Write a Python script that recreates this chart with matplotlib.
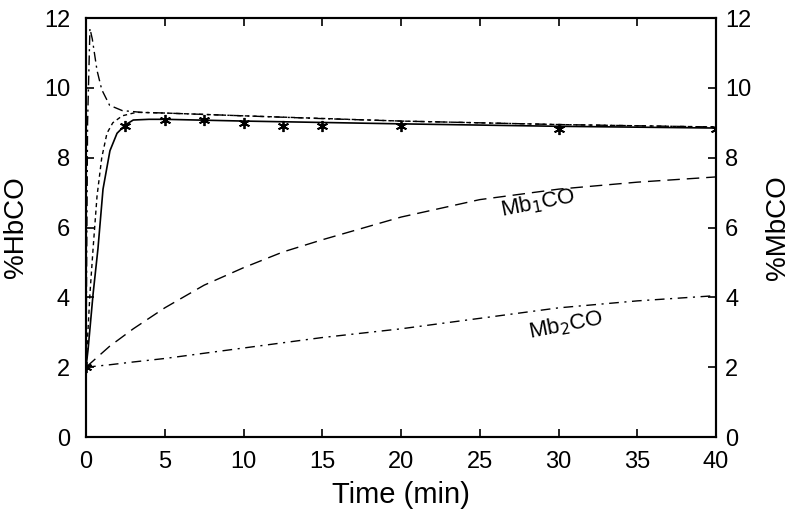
import matplotlib
matplotlib.use("Agg")
import matplotlib.pyplot as plt

plt.rcParams['font.family'] = ['Liberation Sans', 'DejaVu Sans']

# HbCO curves (%), time in min
t_solid = [0, 0.13, 0.45, 0.76, 1.08, 1.52, 1.97, 2.5, 3.0, 4, 5, 10, 20, 30, 40]
hb_solid = [2, 2.5, 4.1, 5.4, 7.1, 8.2, 8.7, 8.94, 9.08, 9.1, 9.1, 9.05, 8.97, 8.9, 8.85]

t_short = [0, 0.25, 0.45, 0.7, 1.0, 1.33, 1.7, 2.3, 3.2, 5, 10, 20, 30, 40]
hb_short = [2, 4.1, 5.4, 6.9, 8.0, 8.7, 9.0, 9.2, 9.3, 9.28, 9.2, 9.05, 8.95, 8.88]

t_dd = [0, 0.1, 0.25, 0.4, 0.7, 1.0, 1.5, 2.3, 3.5, 5, 10, 15, 20, 30, 40]
hb_dd = [2, 9.0, 11.7, 11.4, 10.5, 9.95, 9.5, 9.35, 9.3, 9.28, 9.2, 9.12, 9.05, 8.95, 8.88]

# measured HbCO
t_meas = [0, 2.5, 5, 7.5, 10, 12.5, 15, 20, 30, 40]
hb_meas = [2.0, 8.9, 9.08, 9.08, 9.0, 8.9, 8.9, 8.9, 8.83, 8.83]

# MbCO curves (%)
t_mb = [0, 1.5, 3, 5, 7.5, 10, 12.5, 15, 20, 25, 30, 35, 40]
mb1 = [2.0, 2.6, 3.1, 3.7, 4.35, 4.85, 5.3, 5.65, 6.3, 6.8, 7.1, 7.3, 7.45]
mb2 = [2.0, 2.07, 2.15, 2.25, 2.4, 2.55, 2.7, 2.85, 3.1, 3.4, 3.7, 3.9, 4.05]

fig = plt.figure(figsize=(8, 5.16), dpi=100)
ax = fig.add_axes([0.1075, 0.153, 0.7875, 0.812])

ax.plot(t_solid, hb_solid, color='black', lw=1.2)
ax.plot(t_short, hb_short, color='black', lw=1.0, dashes=(3, 2.5))
ax.plot(t_dd, hb_dd, color='black', lw=1.0, dashes=(7, 3, 1.5, 3))
ax.plot(t_meas, hb_meas, ls='none', marker=(6, 2, 0), color='black', ms=8, mew=1.3)

ax2 = ax.twinx()
ax2.plot(t_mb, mb1, color='black', lw=1.0, dashes=(9, 5))
ax2.plot(t_mb, mb2, color='black', lw=1.0, dashes=(7, 4, 1.5, 4))
ax2.text(28.7, 6.7, 'Mb$_1$CO', fontsize=16, rotation=11, ha='center', va='center')
ax2.text(30.5, 3.2, 'Mb$_2$CO', fontsize=16, rotation=11, ha='center', va='center')

for a in (ax, ax2):
    a.set_xlim(0, 40)
    a.set_ylim(0, 12)
    a.set_yticks(range(0, 13, 2))
    for s in a.spines.values():
        s.set_linewidth(1.5)

ax.set_xticks(range(0, 41, 5))
ax.tick_params(direction='in', length=6, width=1.2, labelsize=17, top=True)
ax.tick_params(axis='y', pad=11.5)
ax.tick_params(axis='x', pad=10)
ax2.tick_params(direction='in', length=6, width=1.2, labelsize=17, pad=6.5)

ax.set_xlabel('Time (min)', fontsize=21, va='center')
ax.set_ylabel('%HbCO', fontsize=20, va='center')
ax2.set_ylabel('%MbCO', fontsize=20, va='center')
ax.xaxis.set_label_coords(0.5, -0.138)
ax.yaxis.set_label_coords(-0.111, 0.5)
ax2.yaxis.set_label_coords(1.098, 0.5)

fig.savefig('out.png', dpi=100)
